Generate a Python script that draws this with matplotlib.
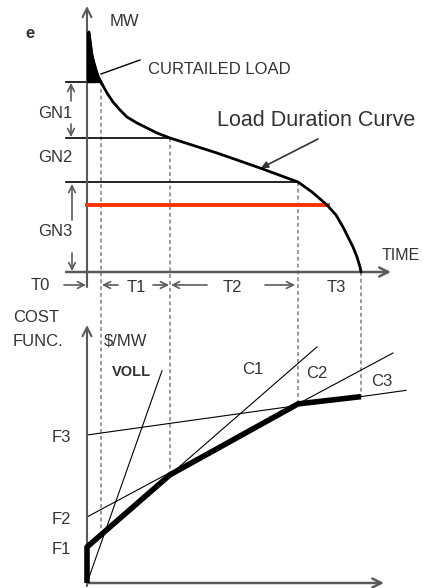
import numpy as np
import matplotlib.pyplot as plt

plt.rcParams['font.family'] = ['Liberation Sans', 'DejaVu Sans']

# load duration curve (top panel): time from origin vs MW
ldc_t = [2, 3.5, 5, 7, 9, 11, 14, 20, 26, 33, 40, 50, 60, 70, 83,
         130, 173, 211, 225, 240, 249, 256, 261, 266, 270, 273, 274]
ldc_mw = [240, 228, 217, 209, 202, 196, 190, 179, 170, 162, 155, 149, 144, 139, 134,
          119, 104, 90, 80, 67, 57, 45, 35, 25, 15, 5, 0]

# period boundaries T0|T1|T2|T3 and generation blocks
t_bounds = [14, 83, 211, 274]
gn_tops = [190, 134, 90]          # top of GN1, GN2, GN3 blocks
red_level, red_end = 67, 241

# cost functions (bottom panel): intercepts and slopes
f_names = ['F1', 'F2', 'F3']
f_icpt = [36, 66, 148]
c_names = ['C1', 'C2', 'C3']
c_slope = [0.87, 0.536, 0.14]
c_end = [230, 306, 319]
voll_slope, voll_end = 2.83, 75

# layout (pixel frame of the figure)
X0, YT, YB = 87, 272, 583
INK = '#333333'
AX = '#5a5a5a'

fig = plt.figure(figsize=(4.23, 5.88), dpi=100)
ax = fig.add_axes([0, 0, 1, 1])
ax.set_xlim(0, 423)
ax.set_ylim(588, 0)
ax.axis('off')


def arrow(x1, y1, x2, y2, lw=1.2, color=AX, ms=12, style='->'):
    ax.annotate('', xy=(x2, y2), xytext=(x1, y1),
                arrowprops=dict(arrowstyle=style, lw=lw, color=color,
                                mutation_scale=ms, shrinkA=0, shrinkB=0))


# ---------------- top panel ----------------
arrow(X0, 287, X0, 6, lw=1.5, ms=16)
arrow(66, YT, 391, YT, lw=1.8, ms=16)

tx = X0 + np.array(ldc_t)
ty = YT - np.array(ldc_mw)
ax.plot(tx, ty, color='black', lw=2.0, solid_capstyle='round',
        solid_joinstyle='round', zorder=4)

# curtailed load (part of the curve above GN1)
m = np.array(ldc_t) <= t_bounds[0]
ax.fill_between(np.r_[X0, tx[m]], np.r_[ty[0], ty[m]], YT - gn_tops[0],
                color='black', zorder=3)

# block lines
for lvl, tb in zip(gn_tops, t_bounds[:3]):
    ax.plot([66, X0 + tb], [YT - lvl, YT - lvl], color='black', lw=1.2)
ax.plot([X0, X0 + red_end], [YT - red_level] * 2, color='#ff3300', lw=2.8, zorder=3)

# cost functions
thick_x = [0, 0] + t_bounds[1:]
thick_y = [0, f_icpt[0],
           f_icpt[0] + c_slope[0] * t_bounds[1],
           f_icpt[1] + c_slope[1] * t_bounds[2],
           f_icpt[2] + c_slope[2] * t_bounds[3]]

# dashed projections between the two panels
for tb in t_bounds:
    top = YT - np.interp(tb, ldc_t, ldc_mw)
    bot = YB - np.interp(tb, thick_x[1:], thick_y[1:])
    ax.plot([X0 + tb, X0 + tb], [top, bot], color='#9a9a9a', lw=1.4,
            ls=(0, (2, 1.5)), zorder=1)

# ---------------- bottom panel ----------------
arrow(X0, 586, X0, 325, lw=1.5, ms=16)
arrow(X0, YB, 384, YB, lw=1.8, ms=16)

for b, s, e in zip(f_icpt, c_slope, c_end):
    ax.plot([X0, X0 + e], [YB - b, YB - b - s * e], color='black', lw=0.8)
ax.plot([X0, X0 + voll_end], [YB, YB - voll_slope * voll_end], color='black', lw=0.8)
ax.plot(X0 + np.array(thick_x), YB - np.array(thick_y), color='black', lw=4.0,
        solid_joinstyle='round', solid_capstyle='butt', zorder=4)

# ---------------- labels ----------------
fs = 12
ax.text(30, 33, 'e', fontsize=fs, color=INK, ha='center', va='center', fontweight='bold')
ax.text(110, 22, 'MW', fontsize=fs, color=INK, va='center')
ax.text(148, 70, 'CURTAILED LOAD', fontsize=fs, color=INK, va='center')
ax.plot([101, 140], [74, 60], color='black', lw=1.0)
ax.text(217, 121, 'Load Duration Curve', fontsize=15.5, color=INK, va='center')
arrow(318, 139, 261, 168, lw=1.2, color=INK, ms=10, style='-|>')

for name, y in zip(['GN1', 'GN2', 'GN3'], [114, 158, 232]):
    ax.text(55, y, name, fontsize=fs, color=INK, ha='center', va='center')
arrow(71, 101, 71, 83)
arrow(71, 124, 71, 137)
arrow(72, 220, 72, 184)
arrow(72, 253, 72, 271)

ax.text(40, 286, 'T0', fontsize=fs, color=INK, ha='center', va='center')
arrow(64, 285, 86, 285)
ax.text(136, 288, 'T1', fontsize=fs, color=INK, ha='center', va='center')
arrow(118, 285, 102, 285)
arrow(153, 285, 169, 285)
arrow(207, 285, 171, 285)
ax.text(232, 288, 'T2', fontsize=fs, color=INK, ha='center', va='center')
arrow(265, 285, 295, 285)
ax.text(336, 288, 'T3', fontsize=fs, color=INK, ha='center', va='center')
ax.text(382, 256, 'TIME', fontsize=11.5, color=INK, va='center')

ax.text(13, 318, 'COST', fontsize=fs, color=INK, va='center')
ax.text(13, 341, 'FUNC.', fontsize=fs, color=INK, va='center')
ax.text(104, 341, '$/MW', fontsize=fs, color=INK, va='center')
ax.text(112, 372, 'VOLL', fontsize=10.5, color=INK, va='center', fontweight='bold')

for name, b in zip(f_names, f_icpt):
    ax.text(61, YB - b + 2, name, fontsize=fs, color=INK, ha='center', va='center')
for name, pos in zip(c_names, [(253, 370), (317, 373), (382, 382)]):
    ax.text(pos[0], pos[1], name, fontsize=fs, color=INK, ha='center', va='center')

fig.savefig('out.png', dpi=100)
